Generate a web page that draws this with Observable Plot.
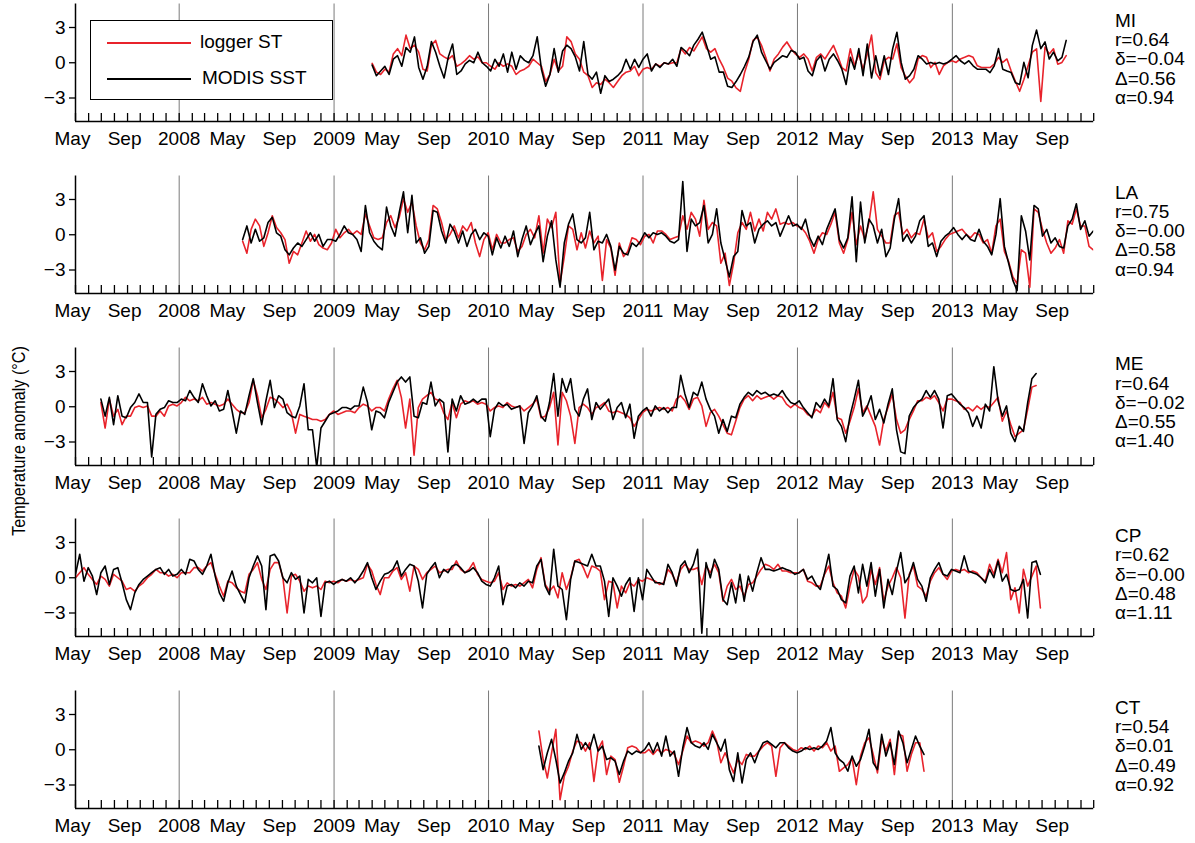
<!DOCTYPE html>
<html><head><meta charset="utf-8">
<script src="https://cdn.jsdelivr.net/npm/d3@7"></script>
<script src="https://cdn.jsdelivr.net/npm/@observablehq/plot@0.6"></script>
<style>
body{margin:0;background:#fff;font-family:"Liberation Sans",Arial,Helvetica,sans-serif;}
#chart{position:relative;width:1195px;height:843px;overflow:hidden;background:#fff;}
.panel{position:absolute;left:0;}
.stats{position:absolute;left:1115px;font-size:19px;line-height:19.3px;color:#000;white-space:pre;}
.ylab{position:absolute;width:300px;text-align:center;font-size:19px;line-height:20px;transform:rotate(-90deg) scaleX(0.85);transform-origin:center center;white-space:nowrap;}
.legend{position:absolute;left:90px;top:20px;width:243px;height:80px;box-sizing:border-box;border:1.5px solid #000;background:#fff;}
.legend .sw{position:absolute;height:0;border-top:2px solid;}
.legend .lt{position:absolute;font-size:19px;line-height:20px;}
</style></head><body><div id="chart"></div>
<script>
// ---- data: 10-day samples of temperature anomaly (°C) ----
const siteNames = ["MI","LA","ME","CP","CT"];
const siteStart = ["2009-04-01","2008-05-30","2007-06-30","2007-05-01","2010-04-30"];
const statR = ["0.64","0.75","0.64","0.62","0.54"];
const statSmallDelta = ["\u22120.04","\u22120.00","\u22120.02","\u22120.00","0.01"];
const statBigDelta = ["0.56","0.58","0.55","0.48","0.49"];
const statAlpha = ["0.94","0.94","1.40","1.11","0.92"];
const seriesNames = ["logger ST","MODIS SST"];

const miLogger = [-0.06,-0.8,-1.0,-0.55,-0.8,0.75,1.2,0.6,2.35,1.2,
1.5,0.9,-0.55,-0.7,1.5,1.9,0.75,0.5,0.3,0.6,
-0.3,-0.1,0.2,0.6,0.3,0.5,0.0,0.0,-0.3,-0.55,
0.0,-0.3,-0.1,-0.3,-1.0,-0.7,-0.55,-0.3,0.3,0.0,
-0.3,-1.6,-1.0,0.3,-0.7,-0.3,2.2,1.8,0.75,0.3,
-0.8,-1.1,-2.1,-1.7,-1.85,-1.4,-1.7,-2.1,-1.6,-1.1,
-0.8,-0.7,-0.3,-1.1,-0.55,-0.4,-0.55,-0.1,-0.3,0.0,
-0.1,0.0,0.0,1.2,0.75,1.3,1.0,1.6,2.2,1.2,
0.9,1.2,0.3,-0.4,-1.3,
-1.57,-2.14,-2.43,-0.84,0.32,1.91,2.2,1.48,0.46,-0.7,
0.32,0.75,1.33,1.77,1.19,0.75,0.46,0.75,0.32,-0.7,
0.46,0.75,0.32,0.9,1.48,0.61,-0.41,-0.7,1.19,-0.26,
0.75,-0.55,0.75,2.35,-0.84,-1.42,0.17,0.46,0.32,1.62,
-0.41,-1.13,-1.71,-1.28,0.32,0.61,0.46,-0.41,0.03,-0.99,
-0.26,0.03,0.17,0.03,0.32,0.46,0.61,0.46,-0.26,-0.41,
-0.41,-0.41,-0.12,0.46,0.03,0.32,-0.7,-1.57,-2.43,-1.42,
-0.26,0.9,1.19,-3.3,1.33,0.75,1.19,-0.12,0.03,0.61];
const miModis = [-0.2,-1.1,-0.7,-0.3,-1.0,0.3,0.6,-0.3,1.3,0.9,
2.2,-0.4,-1.4,-0.3,1.8,0.9,-0.3,-1.3,0.5,1.6,
-1.0,-0.7,-0.1,0.2,0.0,0.9,0.0,-0.3,-0.7,0.3,
-0.3,0.75,-0.8,0.9,-0.55,0.6,0.2,0.0,0.6,2.2,
-0.55,-2.0,-1.0,1.2,-0.8,1.0,1.5,1.2,0.5,-0.7,
1.8,-1.0,-1.4,-0.8,-2.6,-1.1,-1.6,-1.4,-1.1,-0.7,
0.3,-0.55,0.3,-0.4,0.3,0.75,-0.7,-0.1,-0.4,0.0,
-0.1,0.3,-0.3,1.3,1.0,0.6,1.5,2.0,2.6,1.5,
0.3,0.5,-0.8,-0.8,-2.0,
-2.1,-1.6,-1.0,-0.3,0.5,1.8,2.35,0.9,0.17,-0.55,
0.03,0.3,0.6,0.46,1.05,0.9,0.3,0.46,-0.7,-1.1,
0.17,0.6,-0.7,0.3,0.75,0.17,-0.55,-1.85,0.46,-0.55,
1.2,-1.1,1.6,-1.3,0.6,-1.1,0.6,-1.0,1.2,2.6,
0.03,-1.4,-1.1,-0.55,0.6,0.3,-0.1,0.03,-0.1,0.03,
-0.1,0.03,0.3,0.6,0.17,-0.1,0.17,-0.26,-0.55,-0.55,
-0.55,-0.84,-0.26,1.2,-0.55,-0.7,-0.84,-1.7,-1.85,0.03,
-1.28,1.48,2.78,1.2,1.77,0.32,0.9,0.17,0.46,1.9];

const laLogger = [-0.55,-1.57,0.46,1.33,0.75,-0.99,0.17,1.62,0.61,0.17,
-0.41,-2.43,-1.42,-1.71,-0.7,0.32,-0.55,0.03,-0.84,-1.13,
-1.28,-0.7,0.46,-0.26,0.17,0.46,0.03,0.32,0.03,1.77,
0.75,-0.26,-0.41,-0.26,1.04,1.62,0.61,1.48,3.07,1.91,
2.78,0.75,-0.7,-1.28,-0.41,2.49,2.2,1.04,-0.41,0.03,
0.75,-0.26,0.75,0.32,1.04,-0.7,-1.86,-0.41,0.17,-1.28,
0.03,-0.7,-0.7,-0.41,-0.26,-1.42,-0.99,0.03,0.46,-0.26,
1.62,-1.57,1.33,0.61,1.91,-4.17,-1.86,0.75,0.46,-1.28,
0.17,-1.13,0.32,-0.7,-0.12,-3.88,-0.41,-1.13,-3.45,-0.7,
-1.86,-1.42,-0.26,-0.41,-0.84,-0.12,0.03,-0.7,0.32,0.32,
0.03,-0.41,-0.26,-0.12,1.62,0.46,1.91,1.33,-0.12,2.93,
0.46,1.04,0.75,-2.43,-1.57,-4.32,-2.43,0.17,1.04,0.46,
1.91,0.32,1.33,0.32,1.91,1.33,2.2,0.9,1.04,0.9,
1.04,0.75,0.61,0.17,-0.55,-1.57,-0.41,0.17,0.03,0.9,
1.91,-0.7,-1.57,-0.41,1.91,-0.84,0.75,-0.41,1.04,3.65,
0.46,-0.12,-0.7,-0.7,1.62,1.91,0.03,0.46,-0.26,0.17,
0.03,1.33,-0.26,0.17,-1.42,-0.99,-0.41,0.03,0.17,0.32,
0.46,0.03,-0.26,0.17,0.03,-0.7,-0.41,-1.57,0.75,1.33,
-1.42,-2.29,-3.59,-4.17,-1.28,-1.57,-4.46,2.2,1.91,0.46,
-0.7,-1.57,-1.13,-0.41,-1.57,1.19,0.9,2.2,0.75,0.75,
-0.99,-1.28];
const laModis = [-0.41,0.75,-0.7,0.46,-0.55,-0.26,1.04,1.48,0.17,-0.12,
-1.28,-1.71,-1.13,-0.7,-0.99,-0.41,0.17,-0.55,0.03,-0.99,
-0.41,-0.41,-0.55,0.03,0.75,0.17,0.03,-0.41,-1.42,2.49,
0.17,-0.55,-0.99,-1.28,2.35,0.75,-0.12,1.91,3.65,0.17,
3.36,-0.7,-0.26,-1.57,-0.99,2.06,1.91,0.32,-0.7,0.9,
0.32,-0.7,0.32,-0.99,0.03,0.46,-0.41,0.17,-0.12,-1.71,
-0.26,-1.13,-0.12,-0.99,0.32,-1.86,-0.41,0.75,-0.84,0.03,
0.75,-2.29,-0.12,1.19,-2.14,-4.46,-0.7,0.9,1.77,-0.41,
-0.7,-0.26,1.91,-1.28,-0.55,-0.7,0.03,-0.99,-3.01,-0.99,
-1.57,-1.71,-0.7,-0.99,-0.55,0.17,-0.26,0.17,0.03,0.17,
-0.12,-0.55,-0.7,-0.41,4.52,-1.42,1.33,0.75,1.04,2.49,
-0.7,0.03,2.2,-0.7,-2.14,-3.59,-1.86,-1.42,2.06,0.75,
1.04,-0.7,0.46,0.9,1.19,0.75,1.04,-0.12,0.75,1.62,
0.75,0.9,0.46,1.33,-0.26,-0.99,-0.12,-0.84,0.46,1.33,
2.2,-0.41,-1.13,-0.26,3.22,-2.29,2.78,-0.7,1.33,0.75,
-0.7,0.46,-1.86,-1.13,1.33,3.07,-0.55,0.03,-0.7,-0.12,
1.19,1.62,-0.99,-0.7,-1.86,-0.55,-0.12,0.17,0.61,0.03,
-0.41,0.03,-0.41,-0.55,0.46,-0.55,-0.99,-1.71,0.03,3.07,
-0.99,-2.43,-3.88,-4.75,1.62,0.32,-2.14,2.49,2.2,-0.12,
0.46,-0.7,-0.26,-0.99,-1.13,0.75,1.33,2.64,0.46,1.19,
-0.12,0.32];

const meLogger = [0.36,-1.81,0.65,-0.8,-0.22,-1.52,-0.8,-0.8,-0.07,0.07,
-0.07,0.07,-0.8,-0.8,-0.36,-0.8,0.07,0.22,0.07,0.36,
0.8,0.51,0.65,0.51,0.8,0.22,0.36,0.22,0.07,0.22,
0.65,0.22,-0.22,-0.51,-0.51,0.36,2.25,0.94,-0.94,-0.22,
0.8,0.65,0.36,-0.07,0.22,-0.51,-2.25,-0.65,-0.8,-0.94,
-1.09,-1.09,-1.23,-1.09,-0.65,-0.36,-0.65,-0.51,-0.36,-0.36,
-0.51,-0.07,0.22,0.07,-0.36,-0.07,-0.07,-0.36,0.65,1.52,
2.25,0.8,-1.81,0.65,-4.13,-0.07,0.65,0.94,1.23,0.65,
0.51,-0.51,-1.09,0.36,-0.94,0.22,0.51,0.36,0.51,0.22,
0.36,0.22,-0.36,-0.07,0.07,-0.07,0.36,0.07,-0.07,0.07,
-0.36,-0.07,0.22,0.65,-0.94,-0.8,-0.07,1.23,-3.26,1.23,
0.51,-0.8,-3.12,-0.07,0.22,-0.07,-0.65,-0.07,0.07,0.36,
-0.36,-0.51,-0.36,-0.51,-0.65,-0.94,-1.67,-1.09,-0.51,-0.22,
-0.36,-0.22,-0.07,-0.22,-0.07,-0.36,0.65,0.94,0.51,-0.22,
0.65,0.8,0.07,-1.67,-0.51,-0.22,-0.8,-1.52,-2.25,-2.39,
-1.23,-0.07,0.65,0.94,0.51,0.94,0.65,0.8,0.94,0.65,
0.94,0.8,0.22,-0.07,0.22,-0.07,-0.22,-0.65,-0.8,-0.22,
-0.51,0.36,-0.07,1.23,-0.94,-1.09,-2.25,-1.23,-0.07,1.52,
-0.51,0.07,-0.8,-1.67,-3.26,-1.09,-0.07,1.09,-1.09,-2.25,
-1.96,-1.09,-0.36,0.51,0.51,0.8,0.65,0.94,0.36,-0.36,
0.65,0.65,0.51,0.36,-0.22,-0.07,-0.36,0.07,-0.22,0.07,
-0.07,0.36,0.8,-1.23,-0.36,-1.52,-2.54,-2.25,-1.96,-0.22,
1.67,1.81];
const meModis = [0.65,-0.8,0.8,-1.52,0.94,-0.8,-0.94,-0.07,0.36,1.09,
0.36,0.36,-4.28,-0.65,-0.22,-0.07,0.51,0.36,0.36,0.65,
0.51,1.38,0.8,0.36,1.96,0.94,0.07,0.51,-0.36,-0.22,
1.38,-0.36,-2.25,-0.36,-0.65,0.94,2.39,0.36,-1.52,0.51,
2.25,-0.07,0.94,0.65,-0.51,-0.8,-0.94,0.07,1.96,-1.96,
-1.96,-5.14,-1.81,-1.23,-0.65,-0.51,-0.36,-0.07,-0.07,-0.22,
0.07,0.07,1.67,0.36,-1.96,-0.36,-0.51,-0.94,0.36,1.23,
2.1,2.54,2.1,2.54,-0.8,-0.94,0.36,0.22,2.1,0.07,
0.65,0.36,-3.84,0.65,-0.36,0.94,0.22,0.36,0.65,0.36,
0.65,0.65,-2.54,-0.22,0.36,0.07,0.22,-0.22,-0.07,0.07,
-3.12,-0.51,0.07,0.94,-0.8,-1.23,0.36,2.83,-0.8,2.39,
1.23,2.39,-0.22,-0.8,0.65,1.52,-1.09,0.36,-0.22,0.22,
0.65,-1.09,-0.07,0.36,-0.94,0.22,-2.68,-0.8,-0.36,-0.07,
-0.8,0.07,-0.36,-0.07,-0.51,-0.07,-0.07,2.68,1.09,-0.07,
1.23,0.94,2.1,0.65,-0.22,-0.8,-2.25,-1.09,-2.1,-0.8,
-0.94,0.22,0.8,1.23,0.94,1.38,1.09,1.23,0.94,1.09,
0.94,1.38,0.8,0.36,0.22,0.51,-0.07,-0.51,-0.94,0.36,
-0.07,0.65,0.07,2.39,-1.09,-1.67,-2.97,-0.8,0.65,2.25,
-0.8,-0.07,0.94,-1.09,-0.22,-1.38,0.22,1.52,-1.96,-3.84,
-3.99,-0.8,-0.07,0.36,0.65,1.38,0.8,1.38,0.65,-1.81,
0.94,1.09,0.65,0.22,-0.07,-0.51,-1.67,-0.8,-1.81,0.22,
-0.36,3.41,0.51,-0.8,0.07,-2.25,-2.97,-1.67,-2.1,0.36,
2.39,2.83];

const cpLogger = [0,0.43,0.86,0.29,-0.14,-0.57,0.14,-0.14,-0.71,0.29,
0,-0.29,-1.0,-0.86,-1.14,-0.71,-0.43,0,0.29,0.71,
0.43,0.43,0.14,0.29,0,0.43,0.43,0.43,0.86,0.86,
0.57,1.0,1.29,0.29,-0.71,-1.57,-0.29,-0.43,-0.86,-1.14,
-1.29,0.29,0.71,1.29,-0.14,-1.0,0.71,1.29,1.29,0,
-3.0,0.14,0.29,-0.29,-1.14,-0.71,-0.86,-0.71,-1.0,-0.29,
-0.43,-0.29,-0.43,-0.14,-0.29,-0.14,-0.29,-0.14,0,1.14,
0.57,-0.57,-1.43,0,0,0.57,0.86,-0.14,0.43,-1.14,
1.0,0.71,-0.14,0.43,0.71,1.0,0.43,0.57,0.71,0.71,
1.43,0.71,0.43,0.71,1.29,0.29,-0.14,-0.29,-0.43,-0.29,
0.43,-1.0,-0.43,-0.71,-0.57,-0.71,-0.43,-0.14,-0.86,0.71,
1.71,-0.57,-1.14,-0.71,-1.71,0.43,-1.0,0,1.43,1.57,
0.86,0,1.0,0.86,0.57,-1.86,-0.29,-0.43,-2.57,-0.71,
-1.29,-0.43,-0.71,-0.14,-0.29,0,-0.14,-0.29,-0.57,-0.43,
0.71,0.29,-0.43,0.71,1.14,0.71,0.71,0.86,-0.57,1.0,
0.43,1.14,0.43,-2.0,-0.71,-0.14,-1.0,-0.71,-1.57,-0.57,
-0.43,0.14,0.71,1.14,1.0,0.71,1.14,0.57,0.57,0.43,
0.43,0.43,0.71,-0.29,-0.43,-0.71,-0.71,0.29,1.0,-0.43,
-1.29,-1.57,-2.57,-0.71,0.71,0.14,-2.14,-1.57,0.71,-0.57,
0.86,-2.0,-0.71,0,0.86,0,-3.43,0.29,1.0,-0.71,
-1.0,-1.57,-0.29,0.43,0.86,0.29,-0.14,0.57,0.71,0.57,
0.71,0.43,0.57,0.43,0,-0.29,1.14,0.29,1.57,0.43,
2.14,-1.86,-0.86,-3.0,0.71,-0.71,0.14,1.0,-2.57];
const cpModis = [0.29,2.0,-0.29,0.86,0.14,-1.43,0.43,1.0,-0.57,0.71,
0.86,-0.43,-1.86,-2.71,-1.29,-0.57,-0.14,0.14,0.43,0.71,
0.86,0.29,0.71,0.14,0.29,0.71,0.29,1.57,1.43,0.71,
0.29,1.0,2.0,0.14,-1.29,-2.0,-0.43,0.57,-0.71,-1.43,
-2.14,0,1.0,1.86,1.0,-2.71,1.86,2.0,1.43,0,
-0.43,0.43,-0.14,0.14,-3.0,-0.14,-0.43,0,-3.29,-0.43,
-0.29,-0.57,-0.29,-0.14,-0.29,0,-0.43,0,0.57,1.29,
0,-1.0,-0.29,0.29,0.43,0.71,1.43,0.14,0.71,1.14,
1.0,-0.29,-2.57,0.29,0.86,1.29,0,0.71,0.43,1.0,
1.14,0.86,0.43,0.57,0.86,0.43,-0.29,-0.57,-0.71,0,
1.0,-2.29,-0.71,-0.57,-0.86,-0.43,-0.71,-0.29,-0.43,1.0,
1.57,-0.71,-1.43,2.43,-0.71,-1.0,-3.57,-0.14,1.43,1.29,
1.14,1.0,2.0,1.0,1.0,-0.29,-3.29,0,-0.71,-1.57,
-0.57,0,-2.86,0,-1.86,0.71,0.14,-0.43,-0.43,-0.57,
1.14,0.43,-0.71,1.0,1.43,0.43,1.14,2.43,-4.71,1.29,
0,1.57,0.71,-1.86,-2.29,-0.43,-2.14,0.29,-2.0,0.14,
-1.14,0.43,1.71,0.71,0.71,0.57,0.71,0.86,0.71,0.57,
0.29,0.43,0.71,-0.14,0.14,-0.57,-1.0,0.43,2.0,-0.71,
-1.0,-1.86,-2.14,0.14,1.0,-1.29,1.14,-0.71,1.29,-1.57,
0.71,-2.57,-0.14,-1.43,0.57,2.14,-0.43,0.14,1.29,-0.14,
-0.71,-2.0,0,0.71,1.29,0.29,0.14,0.71,0.57,0.43,
1.86,0.57,0.43,0.29,0,-0.43,0.71,0,1.43,-0.29,
0.29,-1.0,-1.14,-1.0,-0.14,-3.43,1.29,1.43,0.29];

const ctLogger = [1.6,-0.83,-2.4,-0.26,1.74,-4.26,-2.26,-1.4,-0.11,0.74,
0.6,-0.11,0.6,-2.69,0.03,0.74,-2.11,-0.54,-0.83,-2.77,
-1.4,0.17,0.31,0.17,-0.26,-0.26,0.03,-0.4,0.03,-0.26,
0.03,-0.11,-0.4,-1.26,-0.11,1.17,0.6,0.74,0.6,0.31,
0.6,1.6,0.74,-1.11,-0.26,-1.11,-1.97,-0.83,-1.26,-0.4,
-0.54,-0.54,-0.11,0.31,0.6,0.31,-2.26,0.17,0.6,0.31,
0.03,-0.11,0.17,0.03,0.31,-0.11,0.31,0.17,0.6,-0.11,
0.31,-1.83,-1.54,-1.26,-0.69,-2.97,-0.54,0.6,1.03,-0.4,
-1.97,0.89,-0.11,0.89,-2.11,1.31,1.17,-1.83,-0.4,0.6,
0.6,-1.83];
const ctModis = [0.31,-1.69,-0.26,0.89,-0.83,-2.83,-1.97,-0.97,-0.26,1.31,
0.03,0.6,0.03,1.31,-0.11,0.31,-0.83,-0.69,-0.97,-2.11,
-0.97,-0.11,-0.4,-0.11,-0.26,0.03,0.6,-0.26,0.6,-0.54,
1.17,-0.54,-0.11,-2.26,0.17,1.89,0.6,0.31,0.17,0.6,
0.03,1.31,0.6,-0.11,0.89,-1.69,-2.69,-0.26,-2.83,-0.83,
-0.26,-1.11,-0.11,0.6,0.74,0.46,0.17,0.6,0.6,0.17,
-0.11,-0.26,-0.11,0.17,0.03,0.17,0.03,0.31,0.74,1.89,
-0.26,-0.83,-1.11,-1.83,-0.54,-1.4,-0.83,0.31,1.74,-1.11,
-1.69,1.31,-0.54,0.6,-1.26,1.6,0.6,-1.11,0.03,1.17,
0.31,-0.4];

const loggerSeries = [miLogger, laLogger, meLogger, cpLogger, ctLogger];
const modisSeries = [miModis, laModis, meModis, cpModis, ctModis];
const stepDays = 10;

// ---- layout ----
const W = 1195, panelStep = 171.75, panelH = 172;
const mTop = 3.5, mBottom = 51, mLeft = 75, mRight = 101.8;
const plotH = panelH - mTop - mBottom;
const xStart = new Date(Date.UTC(2007, 4, 1)), xEnd = new Date(Date.UTC(2013, 11, 1));
const monthTicks = d3.utcMonth.range(xStart, d3.utcDay.offset(xEnd, 1));
const yearTicks = monthTicks.filter(d => d.getUTCMonth() === 0);
const monthLabelTicks = monthTicks.filter(d => d.getUTCMonth() === 4 || d.getUTCMonth() === 8);
const fmtMonth = d3.utcFormat("%b");
const FONT = '"Liberation Sans", Arial, Helvetica, sans-serif';
const RED = "#e8232b";

const chart = document.getElementById("chart");

function toRows(vals, start) {
  const t0 = new Date(start + "T00:00:00Z");
  return vals.map((v, k) => ({date: d3.utcDay.offset(t0, stepDays * k), v}));
}

siteNames.forEach((site, i) => {
  const logger = toRows(loggerSeries[i], siteStart[i]);
  const modis = toRows(modisSeries[i], siteStart[i]);
  const svg = Plot.plot({
    width: W, height: panelH,
    marginTop: mTop, marginBottom: mBottom, marginLeft: mLeft, marginRight: mRight,
    x: {type: "utc", domain: [xStart, xEnd], axis: null},
    y: {domain: [-5, 5]},
    style: {fontFamily: FONT, fontSize: "19px", color: "#000", background: "transparent", overflow: "visible"},
    marks: [
      Plot.ruleX(yearTicks, {stroke: "#7a7a7a", strokeWidth: 1}),
      Plot.tickX(monthTicks, {x: d => d, insetTop: plotH - 8, stroke: "#000", strokeWidth: 1.3}),
      Plot.line(logger, {x: "date", y: "v", stroke: RED, strokeWidth: 1.6, clip: true}),
      Plot.line(modis, {x: "date", y: "v", stroke: "#000", strokeWidth: 1.6, clip: true}),
      Plot.ruleX([xStart], {stroke: "#000", strokeWidth: 1.5}),
      Plot.ruleY([-5], {stroke: "#000", strokeWidth: 1.5}),
      Plot.axisY({ticks: [-3, 0, 3], tickSize: 6, tickPadding: 4, label: null,
        tickFormat: d => d < 0 ? "\u2212" + Math.abs(d) : String(d), strokeWidth: 1.3}),
      Plot.text(yearTicks, {x: d => d, text: d => String(d.getUTCFullYear()), frameAnchor: "bottom", lineAnchor: "top", dy: 10}),
      Plot.text(monthLabelTicks, {x: d => d, text: d => fmtMonth(d), frameAnchor: "bottom", lineAnchor: "top", dy: 10, dx: -3})
    ]
  });
  svg.classList.add("panel");
  svg.style.top = (i * panelStep) + "px";
  chart.appendChild(svg);

  const st = document.createElement("div");
  st.className = "stats";
  st.style.top = (i * panelStep + 10.8) + "px";
  st.textContent = [site, "r=" + statR[i], "\u03b4=" + statSmallDelta[i], "\u0394=" + statBigDelta[i], "\u03b1=" + statAlpha[i]].join("\n");
  chart.appendChild(st);
});

// legend
const lg = document.createElement("div");
lg.className = "legend";
lg.innerHTML =
  `<div class="sw" style="left:16px;top:21px;width:84px;border-color:${RED}"></div>` +
  `<div class="lt" style="left:109px;top:11px">${seriesNames[0]}</div>` +
  `<div class="sw" style="left:16px;top:57px;width:84px;border-color:#000"></div>` +
  `<div class="lt" style="left:111px;top:47px">${seriesNames[1]}</div>`;
chart.appendChild(lg);

// y label
const yl = document.createElement("div");
yl.className = "ylab";
yl.textContent = "Temperature anomaly (\u00b0C)";
yl.style.left = (19 - 150) + "px";
yl.style.top = (441 - 10) + "px";
chart.appendChild(yl);
</script></body></html>
